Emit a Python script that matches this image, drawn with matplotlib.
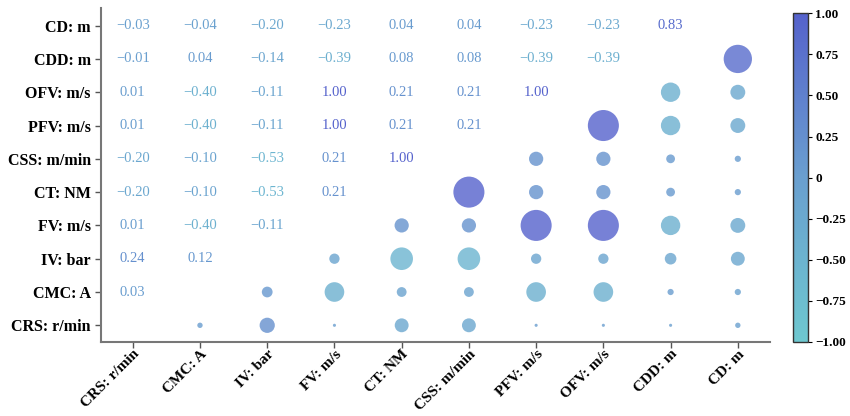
import numpy as np
import matplotlib
matplotlib.use("Agg")
import matplotlib.pyplot as plt
from matplotlib.colors import LinearSegmentedColormap, Normalize

labels = ["CRS: r/min", "CMC: A", "IV: bar", "FV: m/s", "CT: NM",
          "CSS: m/min", "PFV: m/s", "OFV: m/s", "CDD: m", "CD: m"]

# lower-triangle correlations: r_X[i] = corr(X, labels[i])
r_CMC = [0.03]
r_IV = [0.24, 0.12]
r_FV = [0.01, -0.40, -0.11]
r_CT = [-0.20, -0.10, -0.53, 0.21]
r_CSS = [-0.20, -0.10, -0.53, 0.21, 1.00]
r_PFV = [0.01, -0.40, -0.11, 1.00, 0.21, 0.21]
r_OFV = [0.01, -0.40, -0.11, 1.00, 0.21, 0.21, 1.00]
r_CDD = [-0.01, 0.04, -0.14, -0.39, 0.08, 0.08, -0.39, -0.39]
r_CD = [-0.03, -0.04, -0.20, -0.23, 0.04, 0.04, -0.23, -0.23, 0.83]

cbar_ticks = [-1.0, -0.75, -0.5, -0.25, 0.0, 0.25, 0.5, 0.75, 1.0]
cbar_ticklabels = ["\u22121.00", "\u22120.75", "\u22120.50", "\u22120.25", "0",
                   "0.25", "0.50", "0.75", "1.00"]

rows = [[], r_CMC, r_IV, r_FV, r_CT, r_CSS, r_PFV, r_OFV, r_CDD, r_CD]
n = len(labels)

plt.rcParams['font.family'] = ['Liberation Serif', 'DejaVu Serif']

cmap = LinearSegmentedColormap.from_list(
    "tealblue", ["#6ec8d0", "#6a9fcf", "#5562cc"])
norm = Normalize(-1, 1)

fig = plt.figure(figsize=(8.5, 4.16), dpi=100)
ax = fig.add_axes([0.119, 0.178, 0.787, 0.802])

cx, cy, cv = [], [], []
for j in range(n):
    for i, v in enumerate(rows[j]):
        # text in upper-left triangle
        ax.text(i, j, f"{v:.2f}".replace("-", "\u2212"), ha="center", va="center",
                fontsize=10.5, color=cmap(norm(v)))
        cx.append(j)
        cy.append(i)
        cv.append(v)

cx = np.array(cx); cy = np.array(cy); cv = np.array(cv)
ax.scatter(cx, cy, s=np.abs(cv) * 500, c=cv, cmap=cmap, norm=norm,
           alpha=0.8, edgecolors="none", zorder=3)

ax.set_xlim(-0.47, 9.48)
ax.set_ylim(-0.5, 9.52)
ax.set_xticks(range(n))
ax.set_yticks(range(n))
ax.set_xticklabels(labels, rotation=45, ha="right", rotation_mode="anchor",
                   fontsize=11, fontweight="bold")
ax.set_yticklabels(labels, fontsize=11.5, fontweight="bold")
for s in ["top", "right"]:
    ax.spines[s].set_visible(False)
for s in ["left", "bottom"]:
    ax.spines[s].set_color("#777777")
    ax.spines[s].set_linewidth(1.5)
ax.tick_params(colors="#555555", labelcolor="black", length=4, width=1)
ax.tick_params(axis="x", pad=0)
for t in ax.get_xticklabels():
    t.set_x(t.get_position()[0])

cax = fig.add_axes([0.933, 0.178, 0.018, 0.79])
sm = plt.cm.ScalarMappable(cmap=cmap, norm=norm)
cb = fig.colorbar(sm, cax=cax)
cb.set_ticks(cbar_ticks)
cb.set_ticklabels(cbar_ticklabels)
cb.outline.set_edgecolor("#333333")
cb.outline.set_linewidth(1.0)
cax.tick_params(labelsize=9.5, length=3, pad=2)
for t in cax.get_yticklabels():
    t.set_fontweight("bold")

fig.savefig("out.png", dpi=100)
